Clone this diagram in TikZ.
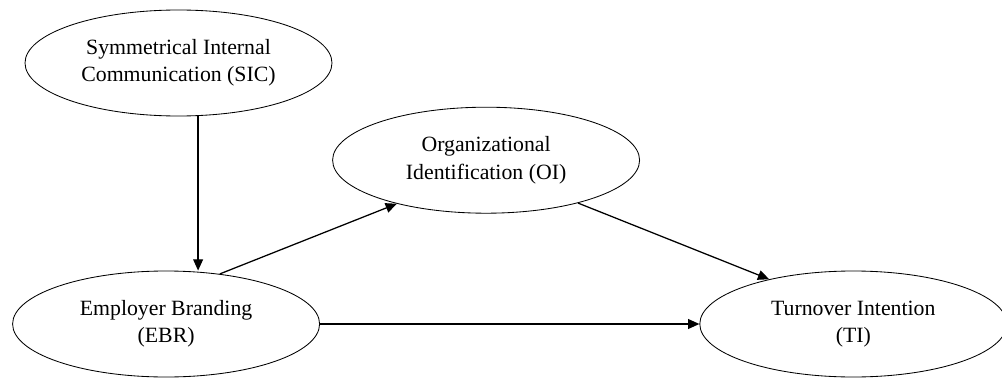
\documentclass[tikz,border=0pt]{standalone}
\usepackage{fontspec}
\setmainfont{Liberation Serif}
\usetikzlibrary{positioning}
\usetikzlibrary{shapes.geometric}
\usetikzlibrary{arrows.meta}

\begin{document}
\begin{tikzpicture}[
                on grid,
                ellnode/.style={ellipse, draw, line width=0.6pt, inner sep=0pt, minimum width=7.675cm, minimum height=2.65cm, align=center, font=\fontsize{15.5}{19.5}\selectfont},
                arr/.style={-{Triangle[length=8pt, width=7pt]}, line width=0.9pt},
            ]
            \useasboundingbox (-4.4625,1.575) rectangle (20.5875,-7.95);
            % Nodes
            \node[ellnode]      (sic)                                           {Symmetrical Internal\\Communication (SIC)};
            \node[ellnode]      (ebr)   [below left=6.525cm and 0.31cm of sic]   {Employer Branding\\(EBR)};
            \node[ellnode]      (oi)    [below right=2.43cm and 7.69cm of sic]   {Organizational\\Identification (OI)};
            \node[ellnode]      (ti)    [right=17.18cm of ebr]                   {Turnover Intention\\(TI)};

            \coordinate (sic_foot) at ([xshift=0.49cm]sic.south);

            %Lines
            \draw[arr] (sic_foot) -- (sic_foot |- ebr.north);
            \draw[arr] (ebr.43) -- (oi.206);
            \draw[arr] (oi.-25) -- (ti.152);
            \draw[arr] (ebr.east) -- (ti.west);
        \end{tikzpicture}
\end{document}
